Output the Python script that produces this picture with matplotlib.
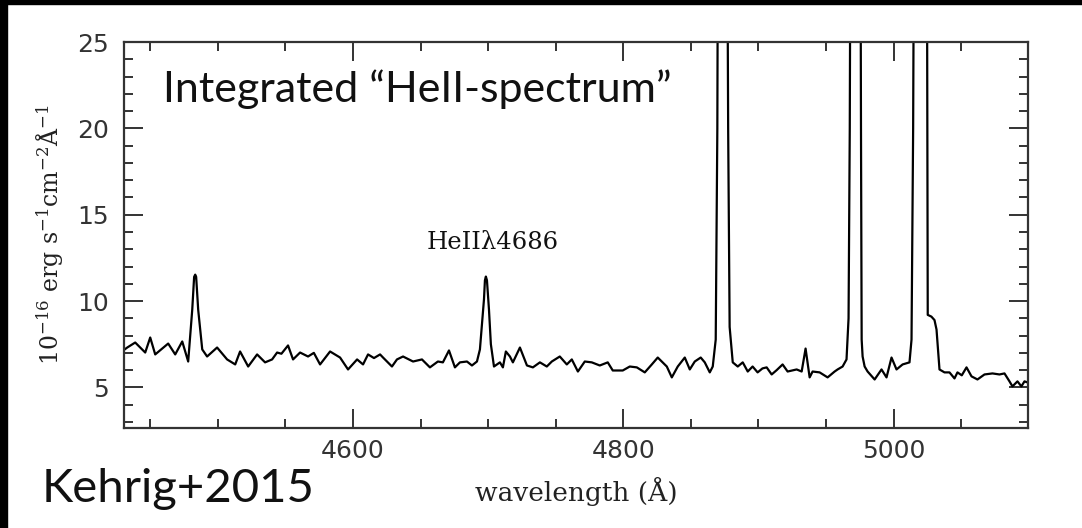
import matplotlib
matplotlib.use("Agg")
import matplotlib.pyplot as plt
from matplotlib.ticker import MultipleLocator
from matplotlib.patches import Rectangle

# integrated spectrum (flux in 1e-16 erg/s/cm2/A)
wavelength = [
    4431.0, 4432.9, 4438.8, 4446.2, 4449.9, 4453.6, 4463.2, 4468.4, 4473.6, 4478.0,
    4481.0, 4482.4, 4483.2, 4483.9, 4485.4, 4488.4, 4492.0, 4499.4, 4506.8, 4512.8,
    4516.4, 4522.4, 4529.0, 4534.9, 4540.1, 4543.8, 4547.0, 4551.9, 4555.6, 4560.8,
    4566.7, 4571.0, 4575.6, 4583.0, 4590.4, 4596.3, 4603.0, 4607.4, 4611.1, 4615.5,
    4620.0, 4622.2, 4628.8, 4632.5, 4637.0, 4644.4, 4651.0, 4656.9, 4662.8, 4666.5,
    4671.0, 4675.4, 4679.1, 4684.3, 4688.0, 4691.7, 4693.9, 4696.9, 4697.6, 4698.3,
    4699.1, 4700.6, 4702.0, 4704.3, 4708.7, 4710.9, 4713.1, 4716.1, 4718.3, 4723.5,
    4728.7, 4733.1, 4738.3, 4743.4, 4747.1, 4753.0, 4758.2, 4761.9, 4766.4, 4771.5,
    4776.7, 4782.6, 4788.5, 4792.2, 4799.6, 4804.8, 4810.0, 4815.9, 4821.1, 4825.5,
    4832.2, 4835.9, 4840.3, 4845.5, 4849.2, 4852.9, 4857.3, 4860.3, 4864.0, 4866.2,
    4868.4, 4869.6, 4870.3, 4873.5, 4876.5, 4877.6, 4878.7, 4881.0, 4884.7, 4888.4,
    4892.1, 4895.7, 4899.4, 4903.0, 4906.1, 4909.8, 4913.5, 4917.9, 4921.6, 4928.3,
    4932.0, 4934.9, 4937.9, 4940.1, 4945.3, 4951.2, 4956.4, 4958.6, 4962.3, 4965.2,
    4966.7, 4967.6, 4968.4, 4972.0, 4975.3, 4975.9, 4976.4, 4977.1, 4978.6, 4980.8,
    4986.0, 4991.1, 4994.8, 4998.5, 5002.2, 5006.7, 5011.8, 5013.3, 5014.5, 5015.5,
    5020.0, 5024.5, 5025.0, 5025.3, 5028.0, 5030.3, 5031.8, 5034.0, 5037.7, 5041.4,
    5045.1, 5047.3, 5050.5, 5054.0, 5057.7, 5062.1, 5067.3, 5073.2, 5078.4, 5082.1,
    5085.8, 5088.0, 5091.7, 5094.6, 5096.9, 5099.1,
]
flux = [
    7.20, 7.31, 7.60, 7.02, 7.89, 6.91, 7.54, 6.91, 7.66, 6.50,
    9.50, 11.40, 11.53, 11.40, 9.50, 7.20, 6.79, 7.31, 6.62, 6.33,
    7.08, 6.21, 6.91, 6.45, 6.62, 7.02, 6.95, 7.43, 6.62, 7.02,
    6.79, 7.00, 6.33, 7.08, 6.73, 6.04, 6.62, 6.33, 6.91, 6.70,
    6.91, 6.73, 6.21, 6.62, 6.79, 6.50, 6.62, 6.16, 6.50, 6.45,
    7.14, 6.16, 6.45, 6.50, 6.27, 6.50, 7.20, 10.10, 11.20, 11.42,
    11.20, 9.50, 7.50, 6.21, 6.45, 6.16, 7.08, 6.79, 6.45, 7.31,
    6.27, 6.16, 6.45, 6.21, 6.50, 6.79, 6.33, 6.62, 5.92, 6.50,
    6.45, 6.27, 6.45, 5.98, 5.98, 6.21, 6.16, 5.87, 6.33, 6.73,
    6.21, 5.58, 6.21, 6.73, 6.04, 6.50, 6.73, 6.45, 5.87, 6.21,
    7.77, 20.0, 40.0, 95.0, 40.0, 20.0, 8.50, 6.45, 6.21, 6.45,
    5.92, 6.21, 5.87, 6.10, 6.16, 5.75, 6.00, 6.33, 5.92, 6.04,
    5.92, 7.25, 5.58, 5.92, 5.87, 5.58, 5.92, 6.04, 6.21, 6.62,
    9.00, 20.0, 40.0, 250.0, 40.0, 20.0, 7.77, 6.79, 6.21, 5.92,
    5.46, 6.04, 5.58, 6.73, 6.04, 6.33, 6.45, 7.77, 20.0, 40.0,
    300.0, 40.0, 20.0, 9.20, 9.10, 8.90, 8.35, 6.04, 5.87, 5.87,
    5.52, 5.87, 5.70, 6.16, 5.64, 5.46, 5.75, 5.81, 5.75, 5.81,
    5.35, 5.06, 5.35, 5.06, 5.35, 5.29,
]

x_limits = (4430.5, 5099.5)
y_limits = (2.65, 25.0)
x_ticks = [4600, 4800, 5000]
y_ticks = [5, 10, 15, 20, 25]

plt.rcParams["mathtext.fontset"] = "custom"
plt.rcParams["mathtext.rm"] = "DejaVu Serif"
plt.rcParams["mathtext.it"] = "DejaVu Serif"

fig = plt.figure(figsize=(10.82, 5.28), dpi=100)
ax = fig.add_axes([124 / 1082, 100 / 528, 904 / 1082, 386 / 528])

ax.plot(wavelength, flux, color="black", linewidth=1.6)
ax.set_xlim(*x_limits)
ax.set_ylim(*y_limits)

ax.set_xticks(x_ticks)
ax.set_yticks(y_ticks)
ax.xaxis.set_minor_locator(MultipleLocator(50))
ax.yaxis.set_minor_locator(MultipleLocator(1))
ax.tick_params(which="both", direction="in", top=True, right=True,
               color="#333333", width=1.4, labelsize=18, labelcolor="#333333")
ax.tick_params(which="major", length=13.5)
ax.tick_params(which="minor", length=6.5)
ax.tick_params(axis="x", pad=8)
ax.tick_params(axis="y", pad=11)
for s in ax.spines.values():
    s.set_linewidth(1.6)
    s.set_color("#333333")

ax.set_xlabel("wavelength (Å)", family="DejaVu Serif", fontsize=19,
              color="#222222", labelpad=10)
ax.set_ylabel(r"$10^{-16}$ erg s$^{-1}$cm$^{-2}$Å$^{-1}$", family="DejaVu Serif",
              fontsize=17, color="#222222", labelpad=8)

ax.text(4703.5, 13.0, "HeII\u03bb4686", family="DejaVu Serif", fontsize=17.5,
        color="#111111", ha="center", va="baseline")

fig.text(163 / 1082, 426 / 528, "Integrated \u201cHeII-spectrum\u201d",
         family="Lato", fontsize=31, color="#111111",
         ha="left", va="baseline")
fig.text(42 / 1082, 26 / 528, "Kehrig+2015", family="Lato",
         fontsize=34, color="#111111", ha="left", va="baseline")

# black frame edges of the slide crop
fig.patches.append(Rectangle((0, 1 - 4 / 528), 1, 4 / 528, transform=fig.transFigure,
                             color="black", zorder=10))
fig.patches.append(Rectangle((0, 0), 7 / 1082, 1, transform=fig.transFigure,
                             color="black", zorder=10))

fig.savefig("out.png", dpi=100)
